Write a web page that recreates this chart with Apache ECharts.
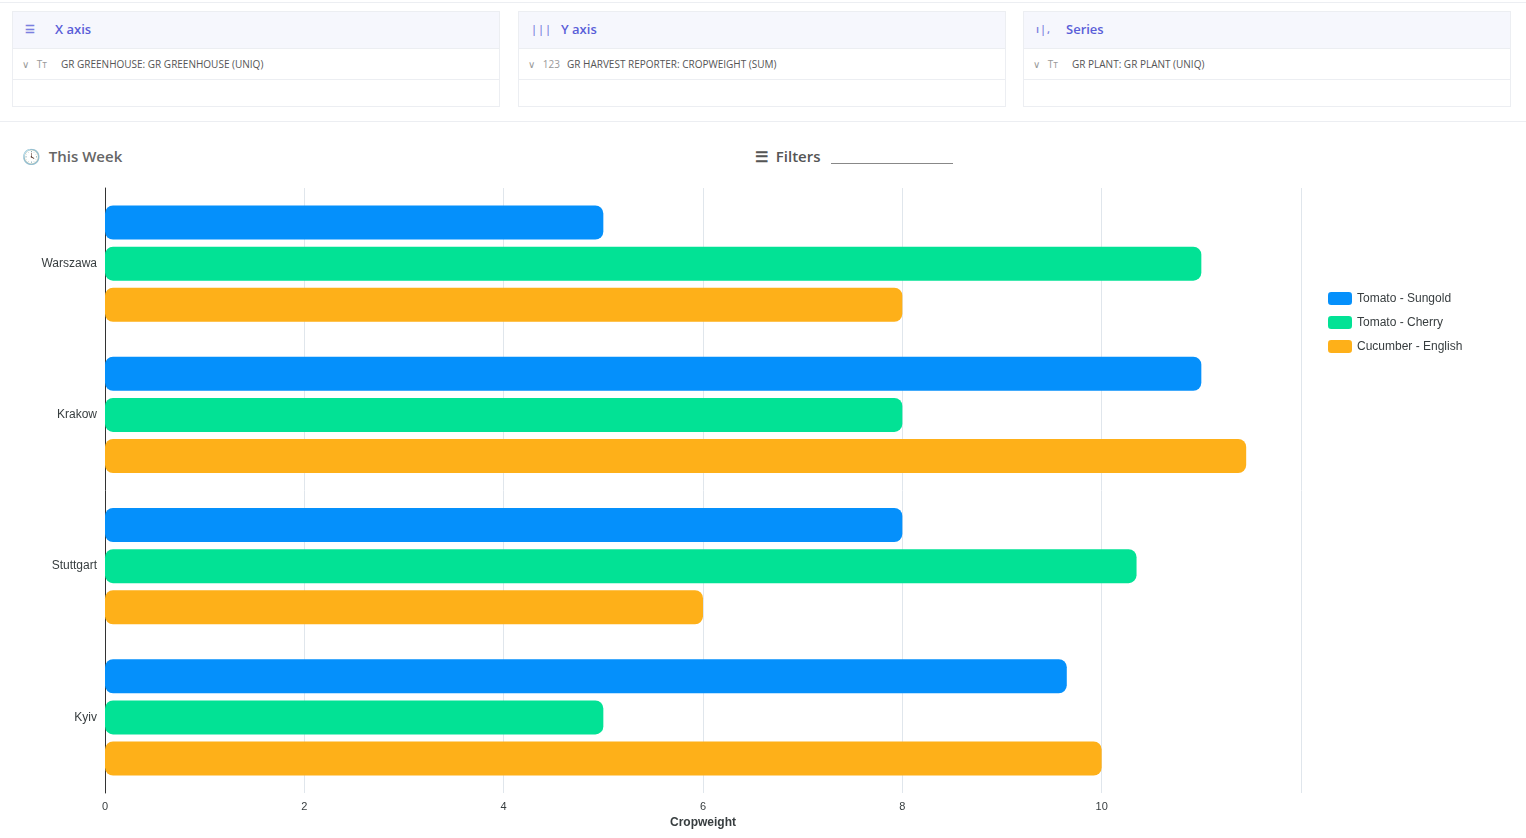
<!DOCTYPE html>
<html><head><meta charset="utf-8">
<script src="https://cdn.jsdelivr.net/npm/echarts@6/dist/echarts.min.js"></script>
<style>
body{margin:0;font-family:"Open Sans","Noto Sans",sans-serif;background:#fff;width:1526px;height:838px;overflow:hidden;position:relative}
.topline{position:absolute;left:0;right:0;top:2px;border-top:1px solid #eceef2}
.panel{position:absolute;top:11px;width:486px;height:94px;border:1px solid #eceef2;background:#fff}
.panel .hd{height:36px;background:#f6f7fd;border-bottom:1px solid #eceef2;color:#5a5ed8;font-size:13px;font-weight:600;line-height:34px;padding-left:42px;position:relative}
.panel .hd i{position:absolute;left:12px;top:0;font-style:normal;color:#7b7fe0;font-size:11px;letter-spacing:1px}
.panel .row{height:30px;border-bottom:1px solid #eceef2;font-size:10px;color:#555;line-height:30px;padding-left:48px;position:relative}
.panel .row i{position:absolute;left:9px;font-style:normal;color:#999}
.sep{position:absolute;left:0;right:0;top:121px;border-top:1px solid #eceef2}
.week{position:absolute;left:22px;top:146px;font-size:15px;font-weight:600;color:#666}
.filt{position:absolute;left:755px;top:146px;font-size:15px;font-weight:600;color:#555}
.filt span{display:inline-block;width:122px;border-bottom:1px solid #888;margin-left:10px;height:17px;vertical-align:top}
#chart{position:absolute;left:0;top:0;width:1526px;height:838px}
</style></head><body>
<div class="topline"></div>
<div class="panel" style="left:12px"><div class="hd"><i>☰</i>X axis</div><div class="row"><i>∨ &nbsp; Tт</i>GR GREENHOUSE: GR GREENHOUSE (UNIQ)</div></div>
<div class="panel" style="left:518px"><div class="hd"><i>|||</i>Y axis</div><div class="row"><i>∨ &nbsp; 123</i>GR HARVEST REPORTER: CROPWEIGHT (SUM)</div></div>
<div class="panel" style="left:1023px"><div class="hd"><i>ı|,</i>Series</div><div class="row"><i>∨ &nbsp; Tт</i>GR PLANT: GR PLANT (UNIQ)</div></div>
<div class="sep"></div>
<div class="week">🕓&nbsp; This Week</div>
<div class="filt">☰&nbsp; Filters<span></span></div>
<div id="chart"></div>
<script>
var cities = ['Warszawa', 'Krakow', 'Stuttgart', 'Kyiv'];
var seriesNames = ['Tomato - Sungold', 'Tomato - Cherry', 'Cucumber - English'];
var sungold = [5, 11, 8, 9.65];
var cherry = [11, 8, 10.35, 5];
var cucumber = [8, 11.45, 6, 10];
var colors = ['#0590fb', '#02e295', '#feb019'];
var xTicks = [0, 2, 4, 6, 8, 10, 12];

var myChart = echarts.init(document.getElementById('chart'));
var data = [sungold, cherry, cucumber];
var series = [];
for (var i = 0; i < 3; i++) {
	series.push({
		name: seriesNames[i], type: 'bar', data: data[i],
		barWidth: 34, barGap: '21%',
		itemStyle: {color: colors[i], borderRadius: 8}
	});
}
var option = {
	animation: false,
	color: colors,
	grid: {left: 105, top: 188, width: 1196, height: 605},
	legend: {
		orient: 'vertical', left: 1323, top: 287, itemWidth: 24, itemHeight: 13, itemGap: 11,
		icon: 'roundRect', textStyle: {fontSize: 12, color: '#373d3f', fontFamily: 'Liberation Sans'},
		data: seriesNames
	},
	xAxis: {
		type: 'value', min: 0, max: 12, interval: 2,
		name: 'Cropweight', nameLocation: 'middle', nameGap: 19,
		nameTextStyle: {fontWeight: 'bold', fontSize: 12, color: '#373d3f', fontFamily: 'Liberation Sans'},
		axisLabel: {color: '#373d3f', fontSize: 11, fontFamily: 'Liberation Sans',
			formatter: function (v) { return v === 12 ? '' : v; }},
		axisLine: {show: false}, axisTick: {show: false},
		splitLine: {lineStyle: {color: '#e0e6ec'}}
	},
	yAxis: {
		type: 'category', data: cities, inverse: true,
		axisLine: {lineStyle: {color: '#333'}},
		axisTick: {length: 5, lineStyle: {color: '#333'}},
		axisLabel: {color: '#373d3f', fontSize: 12, fontFamily: 'Liberation Sans', margin: 8}
	},
	series: series
};
myChart.setOption(option);
</script>
</body></html>
